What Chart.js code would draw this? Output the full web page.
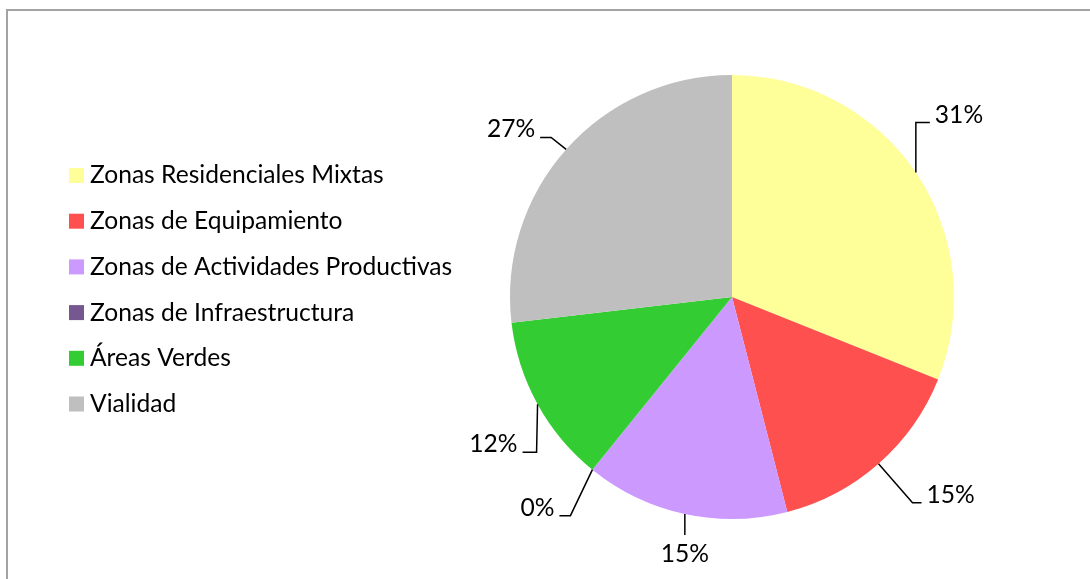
<!DOCTYPE html>
<html>
<head>
<meta charset="utf-8">
<script src="https://cdn.jsdelivr.net/npm/chart.js@4.4.0/dist/chart.umd.min.js"></script>
<style>
html, body { margin: 0; padding: 0; background: #fff; }
#wrap { position: relative; width: 1090px; height: 579px; overflow: hidden; }
#frame { position: absolute; left: 6px; top: 9px; width: 1200px; height: 700px; border: 2px solid #a3a3a3; box-sizing: border-box; }
canvas { position: absolute; left: 0; top: 0; }
</style>
</head>
<body>
<div id="wrap">
    <div id="frame"></div>
    <canvas id="pie" width="1090" height="579"></canvas>
</div>
<script>
var categories = [
    "Zonas Residenciales Mixtas",
    "Zonas de Equipamiento",
    "Zonas de Actividades Productivas",
    "Zonas de Infraestructura",
    "\u00C1reas Verdes",
    "Vialidad"
];
var shares = [31.0, 14.9, 14.8, 0, 12.3, 26.8];
var colors = ["#FFFF99", "#FF5050", "#CC99FF", "#76578F", "#33CC33", "#BFBFBF"];

// leader line per slice: elbow offset from the arc middle, horizontal run and text side
var leaders = [
    { ex: 0, ey: -50, run: 14, side: 1 },
    { ex: 34, ey: 39, run: 9, side: 1 },
    { ex: 0, ey: 21, run: 0, side: 0 },
    { ex: -22, ey: 46, run: 11, side: -1 },
    { ex: -1, ey: 48, run: 14, side: -1 },
    { ex: -15, ey: -12, run: 11, side: -1 }
];

var font = "24.6px Lato";

var legendPlugin = {
    id: 'sideLegend',
    afterDraw: function (chart) {
        var ctx = chart.ctx;
        ctx.save();
        ctx.font = font;
        ctx.textBaseline = 'middle';
        ctx.textAlign = 'left';
        categories.forEach(function (name, i) {
            var y = 175.5 + i * 45.7;
            ctx.fillStyle = colors[i];
            ctx.fillRect(69, y - 7.5, 15, 15);
            ctx.fillStyle = '#000';
            ctx.fillText(name, 90, y);
        });
        ctx.restore();
    }
};

var labelPlugin = {
    id: 'leaderLabels',
    afterDatasetsDraw: function (chart) {
        var ctx = chart.ctx;
        var meta = chart.getDatasetMeta(0);
        var total = shares.reduce(function (a, b) { return a + b; }, 0);
        ctx.save();
        ctx.font = font;
        ctx.strokeStyle = '#000';
        ctx.lineWidth = 1.5;
        ctx.fillStyle = '#000';
        ctx.textBaseline = 'middle';
        meta.data.forEach(function (arc, i) {
            var p = arc.getProps(['x', 'y', 'startAngle', 'endAngle', 'outerRadius'], true);
            var a = (p.startAngle + p.endAngle) / 2;
            var x0 = p.x + p.outerRadius * Math.cos(a);
            var y0 = p.y + p.outerRadius * Math.sin(a);
            var l = leaders[i];
            var x1 = x0 + l.ex, y1 = y0 + l.ey;
            var x2 = x1 + l.run * l.side;
            ctx.beginPath();
            ctx.moveTo(x0, y0);
            ctx.lineTo(x1, y1);
            ctx.lineTo(x2, y1);
            ctx.stroke();
            var txt = Math.round(shares[i] / total * 100) + '%';
            if (l.side === 0) {
                ctx.textAlign = 'center';
                ctx.fillText(txt, x2, y1 + 19);
            } else {
                ctx.textAlign = l.side > 0 ? 'left' : 'right';
                ctx.fillText(txt, x2 + 5 * l.side, y1 - 8);
            }
        });
        ctx.restore();
    }
};

new Chart(document.getElementById('pie').getContext('2d'), {
    type: 'pie',
    data: {
        labels: categories,
        datasets: [{
            data: shares,
            backgroundColor: colors,
            borderWidth: 0
        }]
    },
    options: {
        responsive: false,
        animation: false,
        layout: { padding: { left: 510, right: 136, top: 75, bottom: 60 } },
        plugins: {
            legend: { display: false },
            tooltip: { enabled: false }
        }
    },
    plugins: [legendPlugin, labelPlugin]
});
</script>
</body>
</html>
